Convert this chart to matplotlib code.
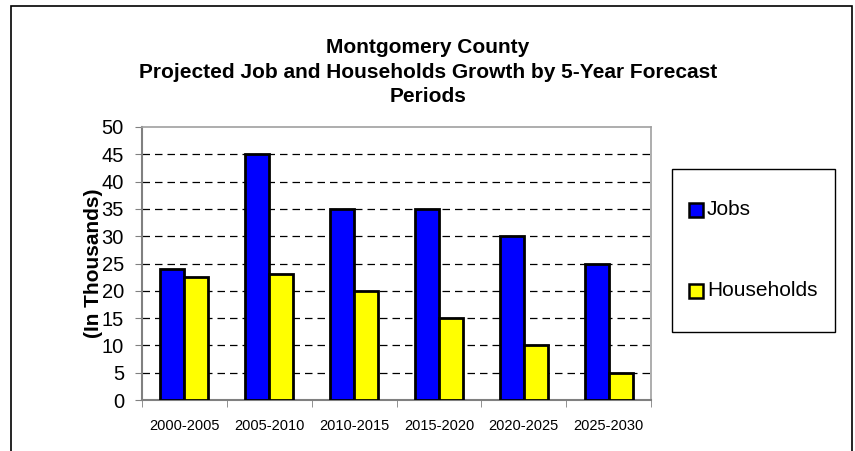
import matplotlib
matplotlib.use('Agg')
import matplotlib.pyplot as plt
from matplotlib.patches import Rectangle
import numpy as np

plt.rcParams['font.family'] = ['Liberation Sans', 'DejaVu Sans']

periods = ['2000-2005', '2005-2010', '2010-2015', '2015-2020', '2020-2025', '2025-2030']
jobs = [24, 45, 35, 35, 30, 25]
households = [22.5, 23, 20, 15, 10, 5]

W, H = 855, 451
fig = plt.figure(figsize=(W / 100, H / 100), dpi=100)

# outer chart frame (runs off the bottom of the picture)
fig.patches.append(Rectangle((11 / W, -0.05), (852 - 11) / W, 1.05 - 6 / H,
                             transform=fig.transFigure, fill=False,
                             edgecolor='black', linewidth=1.2))

ax = fig.add_axes([142 / W, 1 - 400 / H, (651 - 142) / W, (400 - 127) / H])

x = np.arange(len(periods))
bw = 0.283
ax.bar(x - bw / 2, jobs, bw, color='#0000ff', edgecolor='black', linewidth=2, label='Jobs', zorder=3)
ax.bar(x + bw / 2, households, bw, color='#ffff00', edgecolor='black', linewidth=2, label='Households', zorder=3)

ax.set_xlim(-0.5, len(periods) - 0.5)
ax.set_ylim(0, 50)
ax.set_yticks(np.arange(0, 51, 5))
ax.tick_params(axis='y', labelsize=14.5, length=5, color='#808080', pad=8)
ax.set_xticks(x)
ax.set_xticklabels(periods, fontsize=10.5)
ax.tick_params(axis='x', length=0, pad=14)
ax.set_xticks(np.arange(-0.5, len(periods), 1), minor=True)
ax.tick_params(axis='x', which='minor', length=5, color='#808080')

for yv in range(5, 50, 5):
    ax.axhline(yv, color='black', linestyle=(0, (6, 4)), linewidth=0.9, zorder=1)

for s in ['left', 'bottom']:
    ax.spines[s].set_color('#808080')
    ax.spines[s].set_linewidth(1.5)
for s in ['top', 'right']:
    ax.spines[s].set_color('#a0a0a0')
    ax.spines[s].set_linewidth(1.2)

ax.set_ylabel('(In Thousands)', fontsize=15, fontweight='bold', va='center')
ax.yaxis.set_label_coords((93 - 142) / 509, 0.5)

fig.text(428 / W, 1 - 72 / H,
         'Montgomery County\nProjected Job and Households Growth by 5-Year Forecast\nPeriods',
         ha='center', va='center', fontsize=15, fontweight='bold', linespacing=1.38)

# legend box
fig.patches.append(Rectangle((672 / W, 1 - 332 / H), (835 - 672) / W, (332 - 169) / H,
                             transform=fig.transFigure, fill=False,
                             edgecolor='black', linewidth=1))
handles, labels = ax.get_legend_handles_labels()
for (h, lab, yy, col) in zip(handles, labels, [210, 291], ['#0000ff', '#ffff00']):
    fig.patches.append(Rectangle((689 / W, 1 - (yy + 7) / H), 14 / W, 14 / H,
                                 transform=fig.transFigure, facecolor=col,
                                 edgecolor='black', linewidth=1.8))
    fig.text(707 / W, 1 - yy / H, lab, ha='left', va='center', fontsize=15)

fig.savefig('out.png', dpi=100)
